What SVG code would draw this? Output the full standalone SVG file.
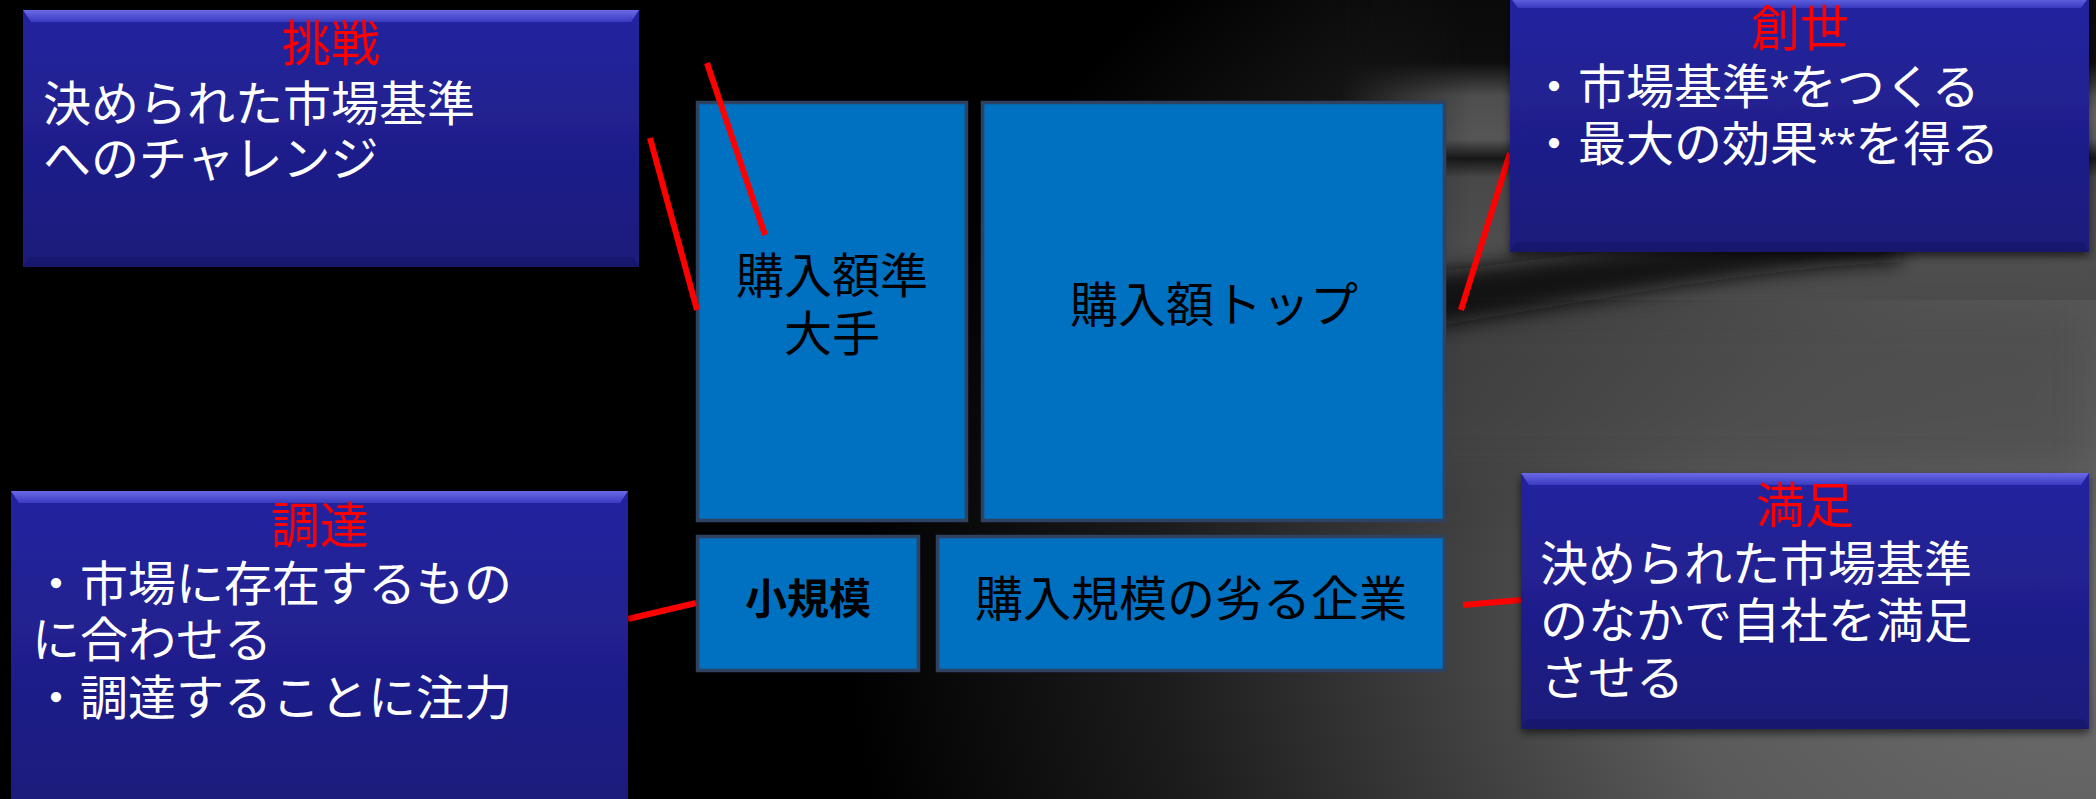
<svg xmlns="http://www.w3.org/2000/svg" width="2096" height="799" viewBox="0 0 2096 799">
<defs>
<style>
.ttl{font-family:"Liberation Sans","Noto Sans CJK JP",sans-serif;font-size:49px;fill:#ff0000;text-anchor:middle}
.bd{font-family:"Liberation Sans","Noto Sans CJK JP",sans-serif;font-size:48px;fill:#ffffff}
.bk{font-family:"Liberation Sans","Noto Sans CJK JP",sans-serif;font-size:48px;fill:#000000;text-anchor:middle}
.bkb{font-family:"Liberation Sans","Noto Sans CJK JP",sans-serif;font-size:42px;font-weight:bold;fill:#000000;text-anchor:middle}
.blue{fill:#0070C0;stroke:#2f4260;stroke-width:3.5}
.cb{fill:url(#cg);filter:url(#sh)}
.bev{fill:url(#bevg)}
.bot{fill:#16166a;opacity:0.7}
.con line{stroke:#ff0000;stroke-width:6}
</style>
<linearGradient id="cg" x1="0" y1="0" x2="0" y2="1">
<stop offset="0" stop-color="#2424a0"/>
<stop offset="1" stop-color="#1b1a7a"/>
</linearGradient>
<linearGradient id="bevg" x1="0" y1="0" x2="0" y2="1">
<stop offset="0" stop-color="#6a6ae8"/>
<stop offset="1" stop-color="#3a3ac0"/>
</linearGradient>
<filter id="sh" x="-5%" y="-5%" width="110%" height="115%">
<feDropShadow dx="0" dy="4" stdDeviation="4" flood-color="#000" flood-opacity="0.6"/>
</filter>
<radialGradient id="bg1" cx="2096" cy="620" r="1250" gradientUnits="userSpaceOnUse" gradientTransform="translate(2096 620) scale(1 0.75) translate(-2096 -620)">
<stop offset="0" stop-color="#6e6e6e"/>
<stop offset="0.35" stop-color="#5a5a5a"/>
<stop offset="0.75" stop-color="#1c1c1c"/>
<stop offset="1" stop-color="#000"/>
</radialGradient>
<linearGradient id="vb" x1="0" y1="0" x2="0" y2="480" gradientUnits="userSpaceOnUse">
<stop offset="0" stop-color="#0a0a0a"/>
<stop offset="0.13" stop-color="#0d0d0d"/>
<stop offset="0.2" stop-color="#4e4e4e"/>
<stop offset="0.29" stop-color="#565656"/>
<stop offset="0.33" stop-color="#161616"/>
<stop offset="0.37" stop-color="#484848"/>
<stop offset="0.55" stop-color="#4f4f4f"/>
<stop offset="1" stop-color="#454545"/>
</linearGradient>
<linearGradient id="fadeL" x1="1340" y1="0" x2="1470" y2="0" gradientUnits="userSpaceOnUse">
<stop offset="0" stop-color="#fff" stop-opacity="0"/>
<stop offset="1" stop-color="#fff" stop-opacity="1"/>
</linearGradient>
<mask id="mL"><rect x="0" y="0" width="2096" height="799" fill="url(#fadeL)"/></mask>
<filter id="blur" x="-20%" y="-50%" width="140%" height="200%"><feGaussianBlur stdDeviation="10"/></filter>
<filter id="blur2" x="-20%" y="-50%" width="140%" height="200%"><feGaussianBlur stdDeviation="25"/></filter>
</defs>

<g id="background">
<rect x="0" y="0" width="2096" height="799" fill="#000"/>
<rect x="0" y="0" width="2096" height="799" fill="url(#bg1)"/>
<g mask="url(#mL)">
<rect x="1250" y="0" width="846" height="300" fill="url(#vb)"/>
<path d="M1250 300 L2096 300 L2096 480 L1250 480 Z" fill="#474747" filter="url(#blur2)" opacity="0.6"/>
</g>
<path d="M1380 280 C1600 250 1750 235 1900 235 L1900 262 C1750 268 1600 300 1380 335 Z" fill="#111" filter="url(#blur)" opacity="0.9"/>
<path d="M2000 100 L2096 100 L2096 135 L2000 135 Z" fill="#8a8a8a" filter="url(#blur)" opacity="0.6"/>
</g>

<g id="n1">
<rect class="blue" x="697.5" y="102.5" width="269" height="418"/>
<text class="bk" x="832" y="293">購入額準</text>
<text class="bk" x="832" y="351">大手</text>
</g>
<g id="n2">
<rect class="blue" x="982.5" y="102.5" width="462" height="418"/>
<text class="bk" x="1214" y="322">購入額トップ</text>
</g>
<g id="n3">
<rect class="blue" x="697.5" y="536.5" width="221" height="134"/>
<text class="bkb" x="808" y="614">小規模</text>
</g>
<g id="n4">
<rect class="blue" x="937.5" y="536.5" width="507" height="134"/>
<text class="bk" x="1191" y="616">購入規模の劣る企業</text>
</g>

<g id="connectors" class="con">
<line x1="707" y1="63" x2="765" y2="235"/>
<line x1="650" y1="138" x2="697" y2="310"/>
<line x1="628" y1="619" x2="696" y2="603"/>
<line x1="1461" y1="310" x2="1510" y2="153"/>
<line x1="1463" y1="605" x2="1521" y2="600"/>
</g>

<g id="c1">
<rect class="cb" x="23" y="10" width="616" height="257"/>
<polygon class="bev" points="23,10 639,10 631,22 31,22"/>
<polygon class="bot" points="23,267 639,267 633,257 29,257"/>
<text class="ttl" x="331" y="61">挑戦</text>
<text class="bd" x="43" y="121">決められた市場基準</text>
<text class="bd" x="43" y="176">へのチャレンジ</text>
</g>

<g id="c2">
<rect class="cb" x="1510" y="-3" width="579" height="255"/>
<polygon class="bev" points="1510,-3 2089,-3 2081,8 1518,8"/>
<polygon class="bot" points="1510,252 2089,252 2083,242 1516,242"/>
<text class="ttl" x="1800" y="46">創世</text>
<text class="bd" x="1530" y="104">・市場基準*をつくる</text>
<text class="bd" x="1530" y="161">・最大の効果**を得る</text>
</g>

<g id="c3">
<rect class="cb" x="11" y="491" width="617" height="330"/>
<polygon class="bev" points="11,491 628,491 620,503 19,503"/>
<text class="ttl" x="320" y="543">調達</text>
<text class="bd" x="32" y="601">・市場に存在するもの</text>
<text class="bd" x="32" y="657">に合わせる</text>
<text class="bd" x="32" y="715">・調達することに注力</text>
</g>

<g id="c4">
<rect class="cb" x="1521" y="473" width="568" height="256"/>
<polygon class="bev" points="1521,473 2089,473 2081,485 1529,485"/>
<polygon class="bot" points="1521,729 2089,729 2083,719 1527,719"/>
<text class="ttl" x="1805" y="523">満足</text>
<text class="bd" x="1540" y="581">決められた市場基準</text>
<text class="bd" x="1540" y="638">のなかで自社を満足</text>
<text class="bd" x="1540" y="695">させる</text>
</g>
</svg>
